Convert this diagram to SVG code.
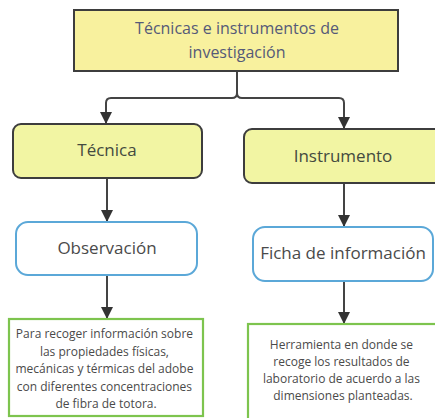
<svg xmlns="http://www.w3.org/2000/svg" width="435" height="418" viewBox="0 0 435 418">
<defs>
<style>
.t{font-family:"Open Sans","Noto Sans","Liberation Sans",sans-serif;text-anchor:middle}
.yel{fill:#f8f19e;stroke:#3d3d3d;stroke-width:2}
.lime{fill:#f2f5a3;stroke:#3d3d3d;stroke-width:2}
.blue{fill:#ffffff;stroke:#5ba8d8;stroke-width:2}
.grn{fill:#ffffff;stroke:#7dc44e;stroke-width:2.2}
.c{fill:none;stroke:#444;stroke-width:2}
</style>
<marker id="ah" markerUnits="userSpaceOnUse" markerWidth="12" markerHeight="12" viewBox="0 0 12 12" refX="12" refY="6" orient="auto">
<path d="M0,0 L12,6 L0,12 z" fill="#333"/>
</marker>
</defs>
<rect width="435" height="418" fill="#ffffff"/>
<g id="connectors">
<path class="c" d="M237,71 V93 Q237,98 232,98 H111 Q106,98 106,103 V124" marker-end="url(#ah)"/>
<path class="c" d="M237,93 Q237,98 242,98 H339 Q344,98 344,103 V129" marker-end="url(#ah)"/>
<path class="c" d="M107,178 V222" marker-end="url(#ah)"/>
<path class="c" d="M107,275 V319" marker-end="url(#ah)"/>
<path class="c" d="M344,183 V227" marker-end="url(#ah)"/>
<path class="c" d="M344,281 V324" marker-end="url(#ah)"/>
</g>
<g id="root">
<rect class="yel" x="74" y="10" width="324" height="61"/>
<text class="t" x="237" y="34" font-size="16" fill="#555a78">Técnicas e instrumentos de</text>
<text class="t" x="237" y="58" font-size="16" fill="#555a78">investigación</text>
</g>
<g id="tecnica">
<rect class="lime" x="13" y="124" width="189" height="54" rx="8"/>
<text class="t" x="107" y="156" font-size="17" fill="#444a40">Técnica</text>
</g>
<g id="instrumento">
<rect class="lime" x="244" y="129" width="200" height="54" rx="8"/>
<text class="t" x="343" y="162" font-size="17" fill="#444a40">Instrumento</text>
</g>
<g id="observacion">
<rect class="blue" x="16" y="222" width="181" height="53" rx="12"/>
<text class="t" x="107" y="254" font-size="17" fill="#4a4a4a">Observación</text>
</g>
<g id="ficha">
<rect class="blue" x="253" y="227" width="180" height="54" rx="12"/>
<text class="t" x="343" y="259" font-size="17" fill="#4a4a4a">Ficha de información</text>
</g>
<g id="desc-tecnica">
<rect class="grn" x="9" y="319" width="194" height="97"/>
<text class="t" font-size="12" fill="#4a4a4a">
<tspan x="106" y="338">Para recoger información sobre</tspan>
<tspan x="106" y="355.5">las propiedades físicas,</tspan>
<tspan x="106" y="373">mecánicas y térmicas del adobe</tspan>
<tspan x="106" y="390.5">con diferentes concentraciones</tspan>
<tspan x="106" y="408">de fibra de totora.</tspan>
</text>
</g>
<g id="desc-instrumento">
<rect class="grn" x="248" y="324" width="195" height="100"/>
<text class="t" font-size="12" fill="#4a4a4a">
<tspan x="343" y="349">Herramienta en donde se</tspan>
<tspan x="343" y="366">recoge los resultados de</tspan>
<tspan x="343" y="383">laboratorio de acuerdo a las</tspan>
<tspan x="343" y="400">dimensiones planteadas.</tspan>
</text>
</g>
</svg>
